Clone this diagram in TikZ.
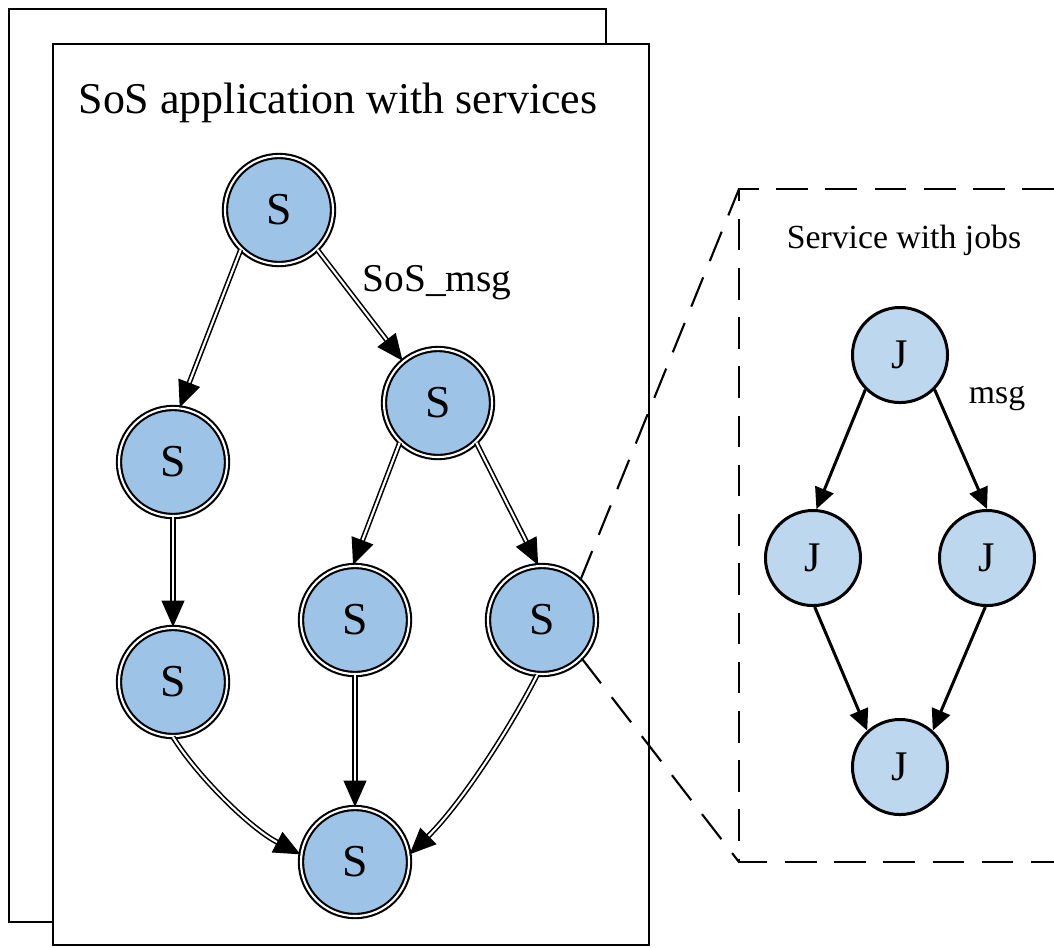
\documentclass[tikz,border=0pt]{standalone}
\usepackage{fontspec}
\setmainfont{Liberation Serif}
\usepackage{tikz}
\usetikzlibrary{arrows.meta}

\definecolor{sosblue}{HTML}{9DC3E6}
\definecolor{jobblue}{HTML}{BDD7EE}

\tikzset{
  sos/.style={circle,draw,double,double distance=0.6pt,line width=0.6pt,
    fill=sosblue,minimum size=1.08cm,inner sep=0pt,font=\fontsize{13}{15}\selectfont},
  job/.style={circle,draw,line width=0.85pt,fill=jobblue,minimum size=0.95cm,
    inner sep=0pt,font=\fontsize{12}{14}\selectfont},
  sosflow/.style={double,double distance=0.6pt,line width=0.45pt,
    -{Triangle[length=7.5pt,width=6.5pt]}},
  jobflow/.style={line width=0.85pt,-{Triangle[length=6pt,width=5.5pt]}},
  zoomline/.style={dash pattern=on 9pt off 5pt,line width=0.6pt}
}

\begin{document}
\begin{tikzpicture}[x=0.01cm,y=-0.01cm]
\useasboundingbox (0,0) rectangle (1054,947);

% Stacked application frames
\draw[line width=0.7pt] (9,9) rectangle (606,922);
\draw[line width=0.7pt,fill=white] (53,44) rectangle (649,945);
\node[font=\fontsize{12.5}{15}\selectfont] (title) at (338,103) {SoS application with services};

% Services
\node[sos] (s1) at (279,210) {S};
\node[sos] (s2) at (173,462) {S};
\node[sos] (s3) at (438,403) {S};
\node[sos] (s4) at (173,682) {S};
\node[sos] (s5) at (355,620) {S};
\node[sos] (s6) at (542,620) {S};
\node[sos] (s7) at (355,862) {S};
\node[font=\fontsize{11.2}{13}\selectfont] (smsg) at (437,283) {SoS\_msg};

\draw[sosflow] (s1.226) -- (s2.83);
\draw[sosflow] (s1.-46) -- (s3.130);
\draw[sosflow] (s2.south) -- (s4.north);
\draw[sosflow] (s3.226) -- (s5.92);
\draw[sosflow] (s3.-46) -- (s6.94);
\draw[sosflow] (s5.south) -- (s7.north);
\draw[sosflow] (s4.south) .. controls (198,777) and (250,828) .. (s7.172);
\draw[sosflow] (s6.265) .. controls (508,732) and (460,805) .. (s7.8);

% Zoomed service
\coordinate (zt) at (739,189);
\coordinate (zb) at (739,862);
\draw[zoomline] (1054,189) -- (zt) -- (zb) -- (1054,862);
\draw[zoomline] (s6.46) -- (zt);
\draw[zoomline] (s6.-44) -- (zb);
\node[font=\fontsize{9.6}{12}\selectfont] (stitle) at (904,240) {Service with jobs};

% Jobs
\node[job] (j1) at (900,355) {J};
\node[job] (j2) at (813,558) {J};
\node[job] (j3) at (987,558) {J};
\node[job] (j4) at (900,767) {J};
\node[font=\fontsize{9.6}{12}\selectfont] (jmsg) at (997,398) {msg};

\draw[jobflow] (j1.225) -- (j2.86);
\draw[jobflow] (j1.-45) -- (j3.90);
\draw[jobflow] (j2.272) -- (j4.132);
\draw[jobflow] (j3.268) -- (j4.48);
\end{tikzpicture}
\end{document}
